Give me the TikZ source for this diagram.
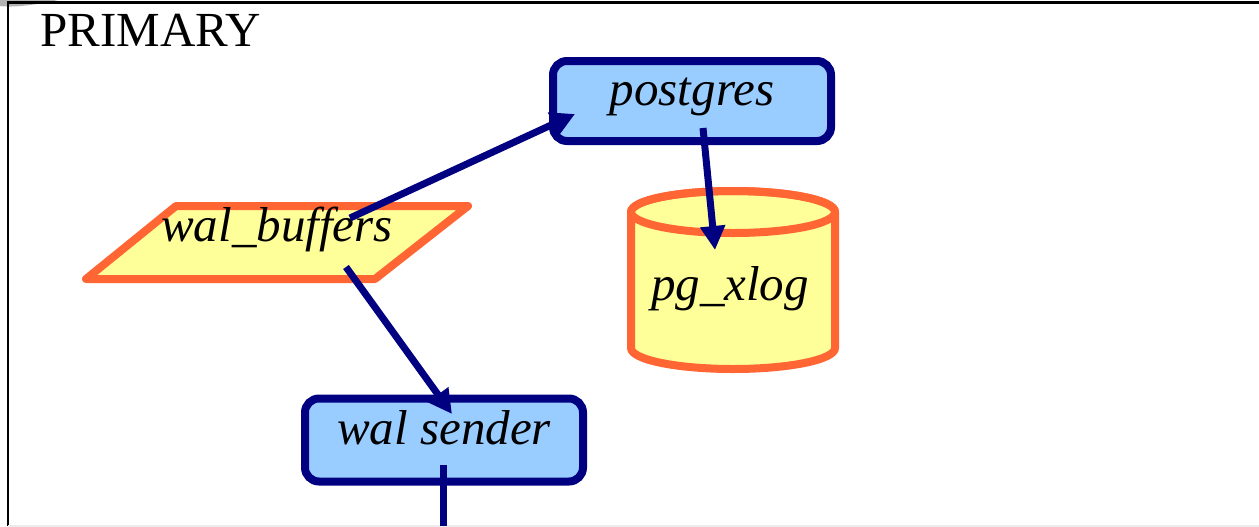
\documentclass[tikz,border=0pt]{standalone}
\usepackage{fontspec}
\setmainfont{Liberation Serif}
\usepackage{xcolor}
\usetikzlibrary{arrows.meta}
\definecolor{navyline}{HTML}{000080}
\definecolor{procfill}{HTML}{99CCFF}
\definecolor{storeline}{HTML}{FF6633}
\definecolor{storefill}{HTML}{FFFF99}
\tikzset{
      font=\fontsize{24.5}{29}\selectfont\itshape,   % big italic labels
      process/.style   = {rectangle, draw=navyline, fill=procfill, line width=4pt,
                          rounded corners=7pt, minimum width=139pt, minimum height=40pt,
                          text height=0.7em, text depth=0.25em},
      textonly/.style  = {text height=0.7em, text depth=0.25em, inner sep=0pt},
      store/.style     = {draw=storeline, fill=storefill, line width=4pt, line join=round},
      arrow/.style     = {-{Triangle[length=12pt,width=12pt]}, draw=navyline, line width=3.5pt}
    }
\begin{document}
\begin{tikzpicture}[x=0.5pt, y=-0.5pt]
  \useasboundingbox (0,0) rectangle (1259,526);
  % Host frame
  \fill[gray!60] (0,0) -- (0,6) .. controls (15,8) and (40,4) .. (58,0) -- cycle;
  \draw[line width=1.4pt] (8,526) -- (8,2.5) -- (1259,2.5);
  \draw[gray!15, line width=1pt] (8,525.5) -- (1259,525.5);
  \node[anchor=base west, inner sep=0pt, font=\fontsize{24.5}{29}\selectfont\upshape] (host) at (40,46) {PRIMARY};
  % Processes
  \node[process] (pg) at (692,101) {postgres};
  \node[process, minimum height=41.5pt] (ws) at (444,440) {wal sender};
  % Shared buffers
  \draw[store] (86,279) -- (176,206) -- (468,206) -- (375,279) -- cycle;
  \node[textonly] (wb) at (277,237) {wal\_buffers};
  % WAL directory
  \draw[store] (631,212) -- (631,348) arc[start angle=180, end angle=0, x radius=102, y radius=21]
    -- (835,212) arc[start angle=0, end angle=-180, x radius=102, y radius=21] -- cycle;
  \draw[store, fill=none] (733,212) ellipse [x radius=102, y radius=21];
  \node[textonly] (xlog) at (730,296) {pg\_xlog};
  % Data flow
  \draw[arrow] ([shift={(73,-19)}]wb.center) -- ([shift={(-117,13)}]pg.center);
  \draw[arrow] ([shift={(11,27)}]pg.center) -- ([shift={(-15,-46)}]xlog.center);
  \draw[arrow] ([shift={(69,30)}]wb.center) -- ([shift={(8,-26)}]ws.center);
  \coordinate (link) at (443,526);
  \draw[arrow, -] ([shift={(-1,25)}]ws.center) -- (link);
\end{tikzpicture}
\end{document}
